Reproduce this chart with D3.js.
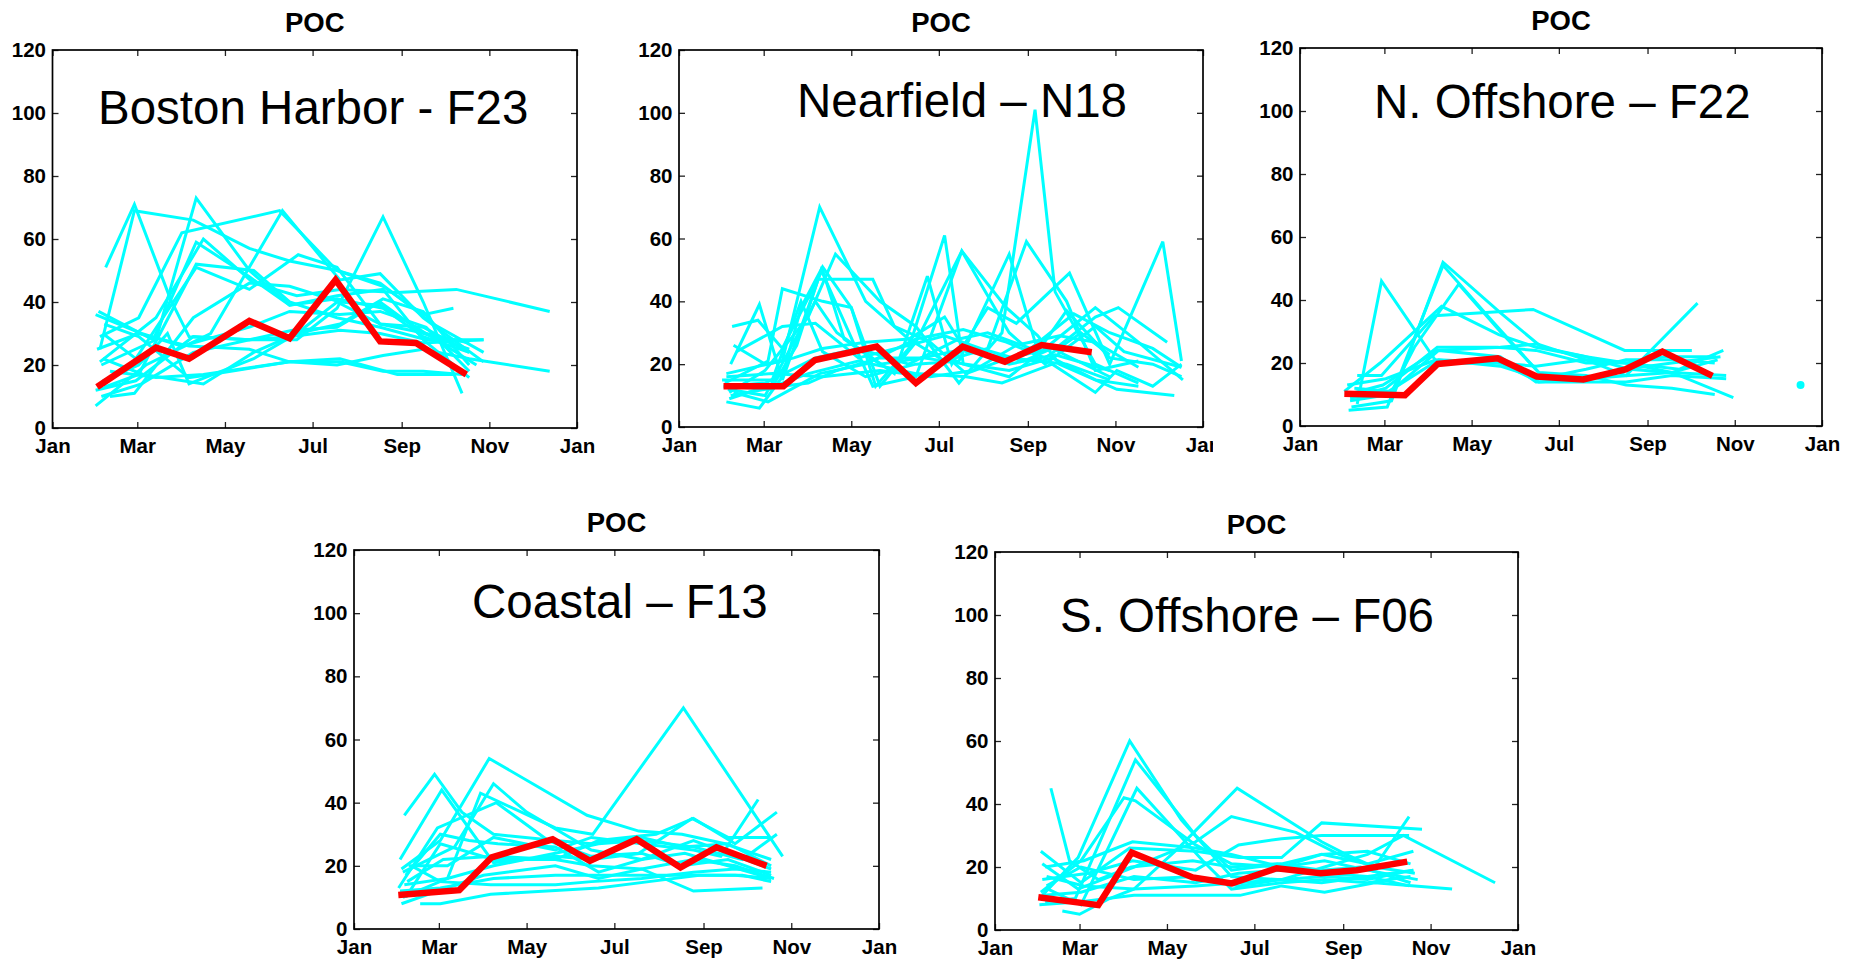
<!DOCTYPE html>
<html>
<head>
<meta charset="utf-8">
<script src="https://cdn.jsdelivr.net/npm/d3@7"></script>
<style>
  html, body { margin: 0; padding: 0; background: #ffffff; }
  svg { display: block; }
</style>
</head>
<body>
<script>
// ---------- shared axis definitions ----------
const xTickDays   = [0, 59, 120, 181, 243, 304, 365];
const xTickLabels = ["Jan", "Mar", "May", "Jul", "Sep", "Nov", "Jan"];
const yTickValues = [0, 20, 40, 60, 80, 100, 120];
const panelTitle  = "POC";
const stationNames = ["Boston Harbor - F23", "Nearfield \u2013 N18", "N. Offshore \u2013 F22", "Coastal \u2013 F13", "S. Offshore \u2013 F06"];

// ---------- data: [day of year, POC] per survey year ----------
const bostonYears = [
  [[37,51],[57,71],[82,41],[95,29],[137,28],[165,29],[200,31],[228,30],[258,27],[300,28]],
  [[33,25],[57,69],[98,66],[137,57],[165,53],[198,50],[230,45],[258,36],[279,38]],
  [[34,20],[72,28],[100,73],[137,50],[165,39],[198,41],[230,38],[258,29],[290,24]],
  [[33,29],[60,35],[90,62],[158,69],[198,50],[228,46],[265,33],[300,24]],
  [[30,7],[65,20],[110,30],[160,69],[200,47],[228,49],[258,35],[300,21]],
  [[32,37],[70,28],[100,59],[137,48],[165,39],[198,42],[230,44],[258,28],[290,16]],
  [[33,21],[72,35],[105,60],[140,46],[170,42],[200,44],[240,43],[281,44],[346,37]],
  [[35,30],[58,22],[100,51],[137,44],[171,55],[198,51],[228,33],[260,30],[290,27]],
  [[36,13],[60,17],[100,52],[140,50],[165,40],[198,35],[228,32],[260,28],[300,28]],
  [[40,18],[72,16],[105,17],[165,21],[200,21],[230,18],[258,18],[285,17]],
  [[30,12],[58,15],[98,29],[137,28],[170,28],[198,38],[230,67],[258,40],[285,11]],
  [[31,25],[60,30],[95,26],[137,25],[165,21],[198,20],[230,23],[258,25],[290,22],[346,18]],
  [[40,10],[57,11],[98,35],[137,46],[165,45],[200,40],[228,39],[260,30],[295,20]],
  [[36,33],[60,29],[95,16],[110,17],[165,21],[200,22],[240,17],[280,17]],
  [[35,15],[60,20],[80,30],[95,14],[140,22],[170,30],[198,40],[228,33],[258,32],[290,24]],
  [[30,36],[62,30],[90,26],[137,32],[165,37],[200,36],[228,37],[260,32],[290,18]],
  [[34,10],[62,14],[98,24],[137,28],[167,31],[198,32],[228,40],[258,30],[290,25]],
  [[35,22],[63,17],[105,14],[140,24],[170,30],[200,33],[230,41],[258,37],[290,20]]
];
const bostonMean = [[31,13],[72,25.5],[95,22],[137,34],[165,28.5],[197,47],[228,27.5],[253,27],[288,17]];

const nearfieldYears = [
  [[37,32],[55,34],[72,25],[100,50],[115,28],[140,20],[170,22],[200,25],[230,20],[262,23],[300,18]],
  [[38,26],[60,20],[72,21],[98,70],[130,40],[160,28],[185,35],[200,24],[230,22],[260,25],[300,16]],
  [[33,8],[56,6],[72,16],[85,38],[100,51],[120,38],[140,13],[165,27],[197,56],[228,38],[250,29],[265,20],[305,12],[345,10]],
  [[36,20],[56,39],[72,15],[97,47],[135,47],[150,32],[175,27],[200,17],[230,22],[270,20],[300,15]],
  [[32,14],[62,21],[72,44],[100,40],[120,38],[137,13],[160,25],[185,61],[198,20],[230,16],[255,25],[290,38],[320,27],[351,15]],
  [[35,11],[60,18],[90,35],[109,55],[140,40],[165,32],[195,14],[225,30],[248,101],[262,43],[290,20],[320,14]],
  [[34,12],[60,10],[95,40],[110,30],[150,17],[173,48],[190,20],[215,38],[235,33],[272,49],[300,20],[337,59],[350,21]],
  [[31,13],[64,12],[82,26],[99,50],[135,13],[165,16],[197,56],[230,30],[255,20],[290,32],[310,24],[350,19]],
  [[30,15],[65,15],[85,40],[100,24],[130,16],[165,20],[195,21],[230,55],[250,24],[270,37],[300,22],[330,20],[350,16]],
  [[33,17],[62,20],[80,22],[100,25],[130,27],[160,28],[185,21],[215,25],[242,59],[270,40],[290,18],[320,21]],
  [[35,9],[55,12],[90,14],[110,18],[140,22],[170,22],[200,20],[230,18],[260,22],[290,15],[320,13]],
  [[32,13],[60,14],[95,22],[125,25],[160,20],[195,28],[215,30],[245,25],[275,36],[300,30],[330,25],[350,19]],
  [[40,24],[72,32],[95,33],[125,22],[160,26],[185,29],[210,25],[240,21],[265,26],[290,35],[306,38],[340,27]],
  [[36,10],[60,12],[90,17],[125,21],[165,17],[200,16],[225,14],[260,20],[290,11],[305,18],[330,13],[350,20]],
  [[33,16],[65,17],[100,16],[140,18],[175,16],[205,18],[235,26],[265,29],[290,27],[320,19]],
  [[38,11],[62,8],[98,17],[130,20],[165,28],[198,31],[228,27],[255,22],[280,30],[300,23]]
];
const nearfieldMean = [[31,13],[72.7,13],[94.7,21.3],[137.7,25.6],[165,14],[197.6,25.6],[227,20.8],[252.6,26.1],[287.5,23.8]];

const nOffshoreYears = [
  [[40,7],[57,46],[96,20],[138,20],[165,19],[198,21],[228,20],[255,22],[291,22]],
  [[36,6],[64,8],[100,52],[140,36],[169,25],[200,22],[230,18],[260,17],[303,9]],
  [[34,5],[61,6],[100,51],[135,33],[167,17],[200,16],[228,13],[260,12],[290,10]],
  [[35,8],[63,10],[80,25],[111,45],[140,30],[169,16],[200,15],[230,16],[260,17],[298,16]],
  [[31,11],[56,20],[99,38],[139,29],[165,25],[200,22],[228,20],[260,17],[292,21]],
  [[40,16],[57,16],[94,35],[163,37],[227,24],[274,24]],
  [[33,10],[58,13],[96,24],[140,25],[166,26],[200,21],[228,16],[241,22],[278,39]],
  [[36,9],[60,12],[96,25],[138,25],[165,24],[200,20],[228,20],[265,18],[296,24]],
  [[38,12],[62,11],[97,21],[140,20],[167,14],[200,15],[228,18],[260,20],[294,22]],
  [[33,13],[60,15],[95,21],[140,19],[168,15],[200,18],[228,21],[260,21],[290,20]],
  [[35,9],[61,10],[97,24],[140,22],[165,14],[198,14],[228,14],[260,16],[298,15]],
  [[350,13]]
];
const nOffshoreMean = [[31,10.2],[73.4,9.8],[96.3,19.7],[138.2,21.5],[165.5,15.7],[198.1,14.8],[227.7,18],[253.4,23.6],[288.4,15.9]];

const coastalYears = [
  [[35,36],[56,49],[75,37],[97,30],[140,28],[165,27],[200,29],[228,26],[260,27],[290,20]],
  [[32,22],[61,44],[97,21],[140,23],[165,22],[200,24],[228,20],[260,22],[290,17]],
  [[33,19],[60,28],[94,54],[162,36],[198,31],[228,30],[258,27],[290,22]],
  [[34,18],[70,26],[97,46],[120,37],[165,25],[200,22],[230,24],[260,20],[290,16]],
  [[35,14],[65,16],[88,43],[140,32],[166,30],[229,70],[298,23]],
  [[31,13],[58,32],[99,40],[135,28],[165,23],[198,24],[235,35],[260,29],[290,29]],
  [[36,10],[60,27],[97,22],[140,22],[170,28],[210,30],[236,35],[265,27],[294,37]],
  [[46,8],[60,8],[95,11],[170,13],[205,15],[240,17],[270,17],[290,15]],
  [[33,8],[58,12],[90,17],[140,20],[170,16],[200,19],[236,12],[284,13]],
  [[38,20],[65,20],[97,29],[140,25],[165,29],[200,27],[236,25],[255,23],[281,41]],
  [[40,20],[60,15],[95,14],[140,14],[165,15],[200,16],[236,18],[265,19],[290,18]],
  [[36,17],[60,30],[80,28],[100,27],[140,26],[170,18],[200,22],[236,28],[260,24],[290,19]],
  [[34,10],[65,16],[97,20],[140,24],[170,27],[200,28],[236,26],[270,22],[294,30]],
  [[37,15],[62,22],[97,23],[140,22],[165,20],[200,19],[236,22],[265,20],[292,16]],
  [[32,12],[60,13],[97,16],[140,17],[170,17],[200,17],[236,17],[265,17],[290,16]]
];
const coastalMean = [[30.8,10.8],[73.2,12.3],[95.7,22.7],[138.1,28.4],[164,21.6],[196.5,28.4],[227,19.5],[252,25.9],[286.8,20]];

const sOffshoreYears = [
  [[39,45],[52,22],[72,16],[95,20],[138,22],[165,20],[197,21],[228,19],[255,20],[290,15]],
  [[33,11],[58,23],[94,60],[130,35],[165,17],[197,16],[228,15],[260,17],[292,19]],
  [[35,9],[56,10],[98,54],[140,30],[165,19],[200,21],[228,24],[260,21],[292,25]],
  [[37,13],[60,8],[99,45],[145,22],[165,13],[200,15],[230,16],[260,15],[290,17]],
  [[32,12],[60,22],[90,42],[98,41],[140,27],[165,21],[200,20],[230,22],[260,19],[295,16]],
  [[36,17],[62,14],[97,13],[128,26],[169,45],[228,28],[245,24],[265,20],[289,36]],
  [[33,21],[58,13],[97,20],[140,28],[165,36],[210,31],[240,24],[265,20],[293,18]],
  [[32,25],[60,15],[94,26],[140,25],[170,23],[200,23],[228,34],[298,32]],
  [[47,6],[59,5],[80,10],[97,13],[140,14],[170,15],[200,16],[230,20],[260,24],[285,30],[349,15]],
  [[31,8],[60,9],[97,11],[171,11],[200,14],[230,12],[265,15],[319,13]],
  [[35,20],[62,22],[96,28],[140,26],[165,24],[200,20],[228,24],[260,25],[290,21]],
  [[33,16],[65,18],[96,22],[140,19],[170,27],[200,29],[228,30],[260,30],[289,30]],
  [[34,11],[60,12],[97,17],[140,15],[170,18],[200,19],[228,18],[260,17],[289,14]],
  [[36,14],[60,20],[97,16],[140,17],[170,14],[200,16],[230,17],[260,16],[292,19]]
];
const sOffshoreMean = [[30.2,10.4],[72.1,7.9],[95.4,24.6],[138,16.7],[165.2,14.8],[196.6,19.6],[227.3,18],[252.4,19],[287.7,21.7]];

// ---------- layout (pixel geometry only) ----------
const layout = [
  {left: 52.5, right: 577,  top: 50,  bottom: 428, labelX: 98,   labelY: 123.5, clipRight: null},
  {left: 679,  right: 1203, top: 50,  bottom: 427, labelX: 797,  labelY: 116.5, clipRight: 1213},
  {left: 1300, right: 1822, top: 48,  bottom: 426, labelX: 1374, labelY: 118,   clipRight: null},
  {left: 354,  right: 879,  top: 550, bottom: 929, labelX: 472,  labelY: 618,   clipRight: null},
  {left: 995,  right: 1518, top: 552, bottom: 930, labelX: 1060, labelY: 631.5, clipRight: null}
];
const yearsList = [bostonYears, nearfieldYears, nOffshoreYears, coastalYears, sOffshoreYears];
const meanList  = [bostonMean, nearfieldMean, nOffshoreMean, coastalMean, sOffshoreMean];

const FONT = "'Liberation Sans', Arial, Helvetica, sans-serif";
const CYAN = "#00FFFF", RED = "#FF0000";
const TICK_FS = 20.5;

const svg = d3.select("body").append("svg")
  .attr("width", 1864).attr("height", 961)
  .style("font-family", FONT);
const defs = svg.append("defs");

layout.forEach((p, i) => {
  const x = d3.scaleLinear().domain([0, 365]).range([p.left, p.right]);
  const y = d3.scaleLinear().domain([0, 120]).range([p.bottom, p.top]);
  const g = svg.append("g");

  const line = d3.line().x(d => x(d[0])).y(d => y(d[1]));

  // yearly cyan lines
  const series = yearsList[i];
  g.selectAll("path.year")
    .data(series.filter(s => s.length > 1))
    .join("path")
    .attr("class", "year")
    .attr("d", line)
    .attr("fill", "none")
    .attr("stroke", CYAN)
    .attr("stroke-width", 3)
    .attr("stroke-linejoin", "miter")
    .attr("stroke-miterlimit", 3);
  g.selectAll("circle.single")
    .data(series.filter(s => s.length === 1))
    .join("circle")
    .attr("class", "single")
    .attr("cx", d => x(d[0][0]))
    .attr("cy", d => y(d[0][1]))
    .attr("r", 4)
    .attr("fill", CYAN);

  // mean red line
  g.append("path")
    .datum(meanList[i])
    .attr("d", line)
    .attr("fill", "none")
    .attr("stroke", RED)
    .attr("stroke-width", 6.5)
    .attr("stroke-linejoin", "miter")
    .attr("stroke-miterlimit", 4);

  // axes (inward ticks on all four sides)
  const tick = 6;
  const bottomAxis = d3.axisBottom(x).tickValues(xTickDays)
    .tickFormat((d, k) => xTickLabels[k]).tickSizeInner(-tick).tickSizeOuter(0).tickPadding(10.5);
  const topAxis = d3.axisTop(x).tickValues(xTickDays).tickFormat("").tickSizeInner(-tick).tickSizeOuter(0);
  const leftAxis = d3.axisLeft(y).tickValues(yTickValues).tickFormat(d3.format("d"))
    .tickSizeInner(-tick).tickSizeOuter(0).tickPadding(6.5);
  const rightAxis = d3.axisRight(y).tickValues(yTickValues).tickFormat("").tickSizeInner(-tick).tickSizeOuter(0);

  let bottomHolder = g.append("g");
  if (p.clipRight) {
    const id = "clip" + i;
    defs.append("clipPath").attr("id", id).append("rect")
      .attr("x", 0).attr("y", 0).attr("width", p.clipRight).attr("height", 961);
    bottomHolder.attr("clip-path", `url(#${id})`);
  }
  const axes = [
    bottomHolder.append("g").attr("transform", `translate(0,${p.bottom})`).call(bottomAxis),
    g.append("g").attr("transform", `translate(0,${p.top})`).call(topAxis),
    g.append("g").attr("transform", `translate(${p.left},0)`).call(leftAxis),
    g.append("g").attr("transform", `translate(${p.right},0)`).call(rightAxis)
  ];
  axes.forEach(a => {
    a.select(".domain").remove();
    a.selectAll(".tick line").attr("stroke", "#222").attr("stroke-width", 1.3);
    a.selectAll("text")
      .attr("fill", "#000")
      .style("font-family", FONT)
      .style("font-size", TICK_FS + "px")
      .style("font-weight", "bold");
  });

  // box
  g.append("rect")
    .attr("x", p.left).attr("y", p.top)
    .attr("width", p.right - p.left).attr("height", p.bottom - p.top)
    .attr("fill", "none").attr("stroke", "#000").attr("stroke-width", 1.7);

  // title
  g.append("text")
    .attr("x", (p.left + p.right) / 2).attr("y", p.top - 18.5)
    .attr("text-anchor", "middle")
    .style("font-size", "27.5px").style("font-weight", "bold")
    .attr("fill", "#000")
    .text(panelTitle);

  // station label
  g.append("text")
    .attr("x", p.labelX).attr("y", p.labelY)
    .style("font-size", "47.5px")
    .attr("fill", "#000")
    .text(stationNames[i]);
});
</script>
</body>
</html>
